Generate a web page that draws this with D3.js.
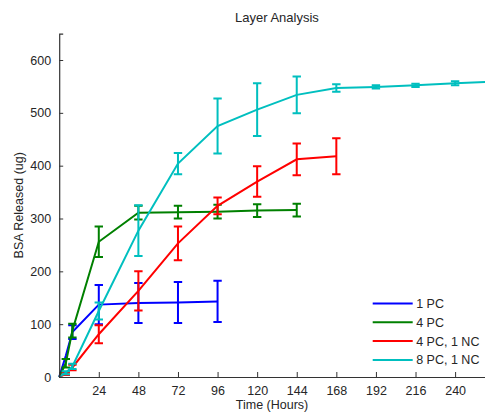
<!DOCTYPE html>
<html lang="en">
  <head>
    <meta charset="UTF-8" />
    <title>Layer Analysis</title>
    <script src="https://d3js.org/d3.v7.min.js"></script>
    <style>
      body { margin: 0; background: #fff; }
      text { font-family: 'Liberation Sans', Arial, sans-serif; fill: #262626; }
    </style>
  </head>
  <body>
    <svg width="485" height="412"></svg>

    <script>
      // Sample times (hours) shared by all series
      const hours = [0, 4, 8, 24, 48, 72, 96, 120, 144, 168, 192, 216, 240, 264];
      const xTicks = [24, 48, 72, 96, 120, 144, 168, 192, 216, 240];
      const yTicks = [0, 100, 200, 300, 400, 500, 600];

      // BSA released (ug) and error bars, one value per time above
      const pc1 = [0, 40, 85, 137, 140, 141, 143];
      const pc1Err = [0, 0, 13, 37, 38, 39, 39];
      const pc4 = [0, 26, 88, 256, 311, 312, 313, 315, 316];
      const pc4Err = [0, 8, 13, 29, 13, 12, 13, 12, 12];
      const pc4nc1 = [0, 6, 18, 81, 163, 253, 324, 370, 412, 418];
      const pc4nc1Err = [0, 2, 5, 17, 37, 32, 16, 29, 30, 34];
      const pc8nc1 = [0, 8, 20, 125, 277, 404, 475, 506, 534, 547, 549, 552, 556, 559];
      const pc8nc1Err = [0, 3, 5, 16, 48, 20, 52, 50, 35, 7, 3, 3, 4, 3];

      const seriesNames = ['1 PC', '4 PC', '4 PC, 1 NC', '8 PC, 1 NC'];
      const colors = ['#0000ff', '#008000', '#ff0000', '#00bfbf'];

      const series = [
        [pc1, pc1Err],
        [pc4, pc4Err],
        [pc4nc1, pc4nc1Err],
        [pc8nc1, pc8nc1Err],
      ].map(([vals, errs], i) => ({
        name: seriesNames[i],
        color: colors[i],
        points: vals.map((v, j) => ({ t: hours[j], v: v, e: errs[j] })),
      }));

      const svg = d3.select('svg');
      const mLeft = 59.2, mTop = 33.6, plotW = 435.5, plotH = 343.4;

      const x = d3.scaleLinear().domain([0, 264]).range([mLeft, mLeft + plotW]);
      const y = d3.scaleLinear().domain([0, 650]).range([mTop + plotH, mTop]);

      // Lines + error bars
      const line = d3.line().x((d) => x(d.t)).y((d) => y(d.v));
      const g = svg.selectAll('.series').data(series).enter().append('g');

      g.append('path')
        .attr('d', (d) => line(d.points))
        .attr('fill', 'none')
        .attr('stroke', (d) => d.color)
        .attr('stroke-width', 2);

      g.each(function (s) {
        d3.select(this)
          .selectAll('.err')
          .data(s.points.filter((p) => p.e > 0))
          .enter()
          .append('path')
          .attr('fill', 'none')
          .attr('stroke', s.color)
          .attr('stroke-width', 2)
          .attr('d', (p) => {
            const cx = x(p.t), y1 = y(p.v + p.e), y2 = y(p.v - p.e), w = 4.2;
            return `M${cx - w},${y1}H${cx + w}M${cx},${y1}V${y2}M${cx - w},${y2}H${cx + w}`;
          });
      });

      // Axes (MATLAB style, inward ticks)
      const xAxis = svg.append('g')
        .attr('transform', `translate(0,${mTop + plotH})`)
        .call(d3.axisBottom(x).tickValues(xTicks).tickSize(-5).tickPadding(9));
      const yAxis = svg.append('g')
        .attr('transform', `translate(${mLeft},0)`)
        .call(d3.axisLeft(y).tickValues(yTicks).tickSize(-4).tickPadding(8));

      [xAxis, yAxis].forEach((a) => {
        a.select('.domain').attr('stroke', '#333').attr('stroke-width', 1.2);
        a.selectAll('.tick line').attr('stroke', '#333');
        a.selectAll('text').attr('font-size', 12.5).attr('font-family', null);
      });

      // Titles
      svg.append('text')
        .attr('x', mLeft + plotW / 2)
        .attr('y', 22)
        .attr('text-anchor', 'middle')
        .attr('font-size', 13)
        .text('Layer Analysis');

      svg.append('text')
        .attr('x', 272)
        .attr('y', 409)
        .attr('text-anchor', 'middle')
        .attr('font-size', 12.5)
        .text('Time (Hours)');

      svg.append('text')
        .attr('transform', `translate(23,${mTop + plotH / 2}) rotate(-90)`)
        .attr('text-anchor', 'middle')
        .attr('font-size', 12.5)
        .text('BSA Released (ug)');

      // Legend
      const legend = svg.selectAll('.legend')
        .data(series)
        .enter()
        .append('g')
        .attr('transform', (d, i) => `translate(372.7,${303.5 + i * 18.8})`);

      legend.append('line')
        .attr('x1', 0)
        .attr('x2', 40)
        .attr('stroke', (d) => d.color)
        .attr('stroke-width', 2);

      legend.append('text')
        .attr('x', 43.5)
        .attr('y', 4.5)
        .attr('font-size', 12.5)
        .text((d) => d.name);
    </script>
  </body>
</html>
